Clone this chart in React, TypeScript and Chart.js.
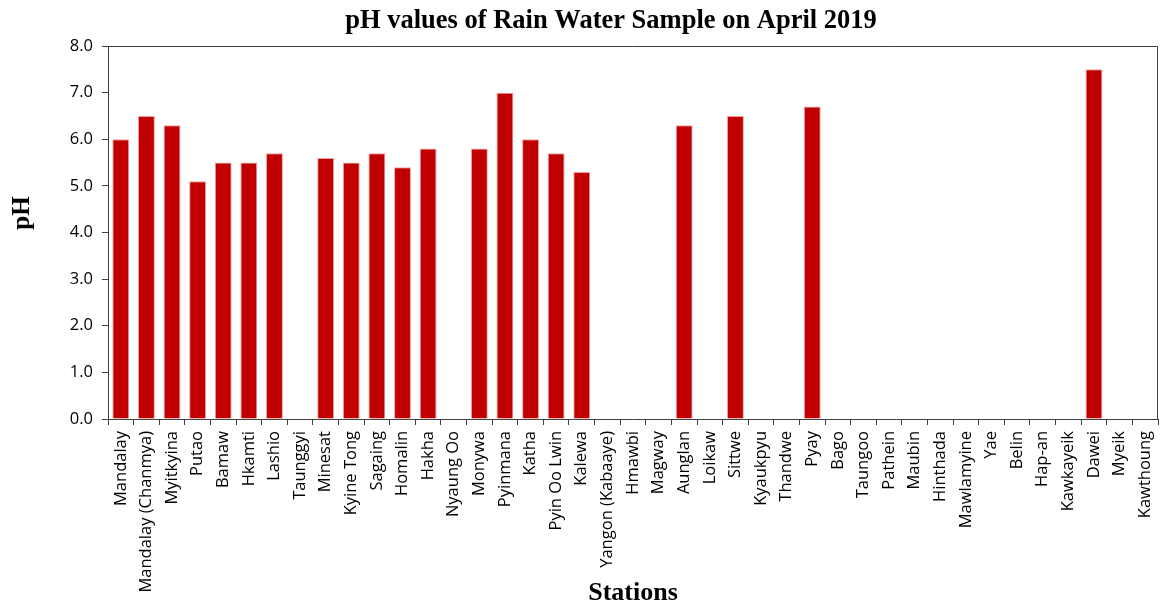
import React, { useEffect, useRef } from "react";
import { Chart, registerables } from "chart.js";

Chart.register(...registerables);

const stations: string[] = [
  "Mandalay", "Mandalay (Chanmya)", "Myitkyina", "Putao", "Bamaw", "Hkamti", "Lashio", "Taunggyi",
  "Minesat", "Kyine Tong", "Sagaing", "Homalin", "Hakha", "Nyaung Oo", "Monywa", "Pyinmana",
  "Katha", "Pyin Oo Lwin", "Kalewa", "Yangon (Kabaaye)", "Hmawbi", "Magway", "Aunglan", "Loikaw",
  "Sittwe", "Kyaukpyu", "Thandwe", "Pyay", "Bago", "Taungoo", "Pathein", "Maubin", "Hinthada",
  "Mawlamyine", "Yae", "Belin", "Hap-an", "Kawkayeik", "Dawei", "Myeik", "Kawthoung",
];

const phValues: (number | null)[] = [
  6.0, 6.5, 6.3, 5.1, 5.5, 5.5, 5.7, null,
  5.6, 5.5, 5.7, 5.4, 5.8, null, 5.8, 7.0,
  6.0, 5.7, 5.3, null, null, null, 6.3, null,
  6.5, null, null, 6.7, null, null, null, null, null,
  null, null, null, null, null, 7.5, null, null,
];

const yTicks: number[] = [0, 1, 2, 3, 4, 5, 6, 7, 8];

const titleText = "pH values of Rain Water Sample on April 2019";
const xTitle = "Stations";
const yTitle = "pH";

const decorPlugin = {
  id: "decorPlugin",
  afterDraw(chart: any) {
    const { ctx, chartArea } = chart;
    ctx.save();
    ctx.strokeStyle = "#404040";
    ctx.lineWidth = 1;
    ctx.beginPath();
    ctx.moveTo(chartArea.left, chartArea.top + 0.5);
    ctx.lineTo(chartArea.right - 0.5, chartArea.top + 0.5);
    ctx.lineTo(chartArea.right - 0.5, chartArea.bottom);
    ctx.stroke();

    ctx.fillStyle = "#000";
    ctx.textAlign = "center";
    ctx.textBaseline = "middle";
    ctx.font = "bold 26.5px 'Liberation Serif'";
    ctx.fillText(titleText, 611, 21);

    ctx.translate(23, 213);
    ctx.rotate(-Math.PI / 2);
    ctx.font = "bold 25px 'Liberation Serif'";
    ctx.fillText(yTitle, 0, 0);
    ctx.restore();
  },
};

export default function App() {
  const ref = useRef<HTMLCanvasElement | null>(null);
  useEffect(() => {
    document.body.style.margin = "0";
    const ctx = ref.current!;
    const chart = new Chart(ctx, {
      type: "bar",
      data: {
        labels: stations,
        datasets: [
          {
            data: phValues as any,
            backgroundColor: "#C00000",
            borderColor: "#F2A0A0",
            borderWidth: 1,
            categoryPercentage: 1,
            barPercentage: 0.66,
          },
        ],
      },
      options: {
        animation: false,
        responsive: false,
        maintainAspectRatio: false,
        layout: { padding: { left: 0, right: 3, top: 46, bottom: 0 } },
        plugins: {
          legend: { display: false },
          tooltip: { enabled: false },
          title: { display: false },
        },
        scales: {
          x: {
            grid: {
              display: true,
              offset: true,
              drawOnChartArea: false,
              drawTicks: true,
              tickLength: 6,
              color: "#404040",
            },
            border: { display: true, color: "#404040" },
            ticks: {
              autoSkip: false,
              maxRotation: 90,
              minRotation: 90,
              color: "#000",
              padding: 6,
              font: { family: "Open Sans", size: 16.5 },
            },
            title: {
              display: true,
              text: xTitle,
              color: "#000",
              font: { family: "Liberation Serif", size: 26, weight: "bold" },
              padding: { top: 0, bottom: 2 },
            },
            afterFit(scale: any) {
              scale.height = 192;
              scale.paddingLeft = 0;
              scale.paddingRight = 0;
            },
          },
          y: {
            min: 0,
            max: 8,
            afterBuildTicks(scale: any) {
              scale.ticks = yTicks.map((v) => ({ value: v }));
            },
            grid: {
              display: true,
              drawOnChartArea: false,
              drawTicks: true,
              tickLength: 6,
              color: "#404040",
            },
            border: { display: true, color: "#404040" },
            ticks: {
              color: "#000",
              padding: 9,
              font: { family: "Open Sans", size: 16.5 },
              callback: (v: any) => Number(v).toFixed(1),
            },
            title: { display: false },
            afterFit(scale: any) {
              scale.width = 108;
              scale.paddingTop = 0;
              scale.paddingBottom = 0;
            },
          },
        },
      },
      plugins: [decorPlugin],
    });
    return () => chart.destroy();
  }, []);
  return (
    <div style={{ width: 1161, height: 611, background: "#fff" }}>
      <canvas ref={ref} width={1161} height={611} style={{ display: "block" }} />
    </div>
  );
}
